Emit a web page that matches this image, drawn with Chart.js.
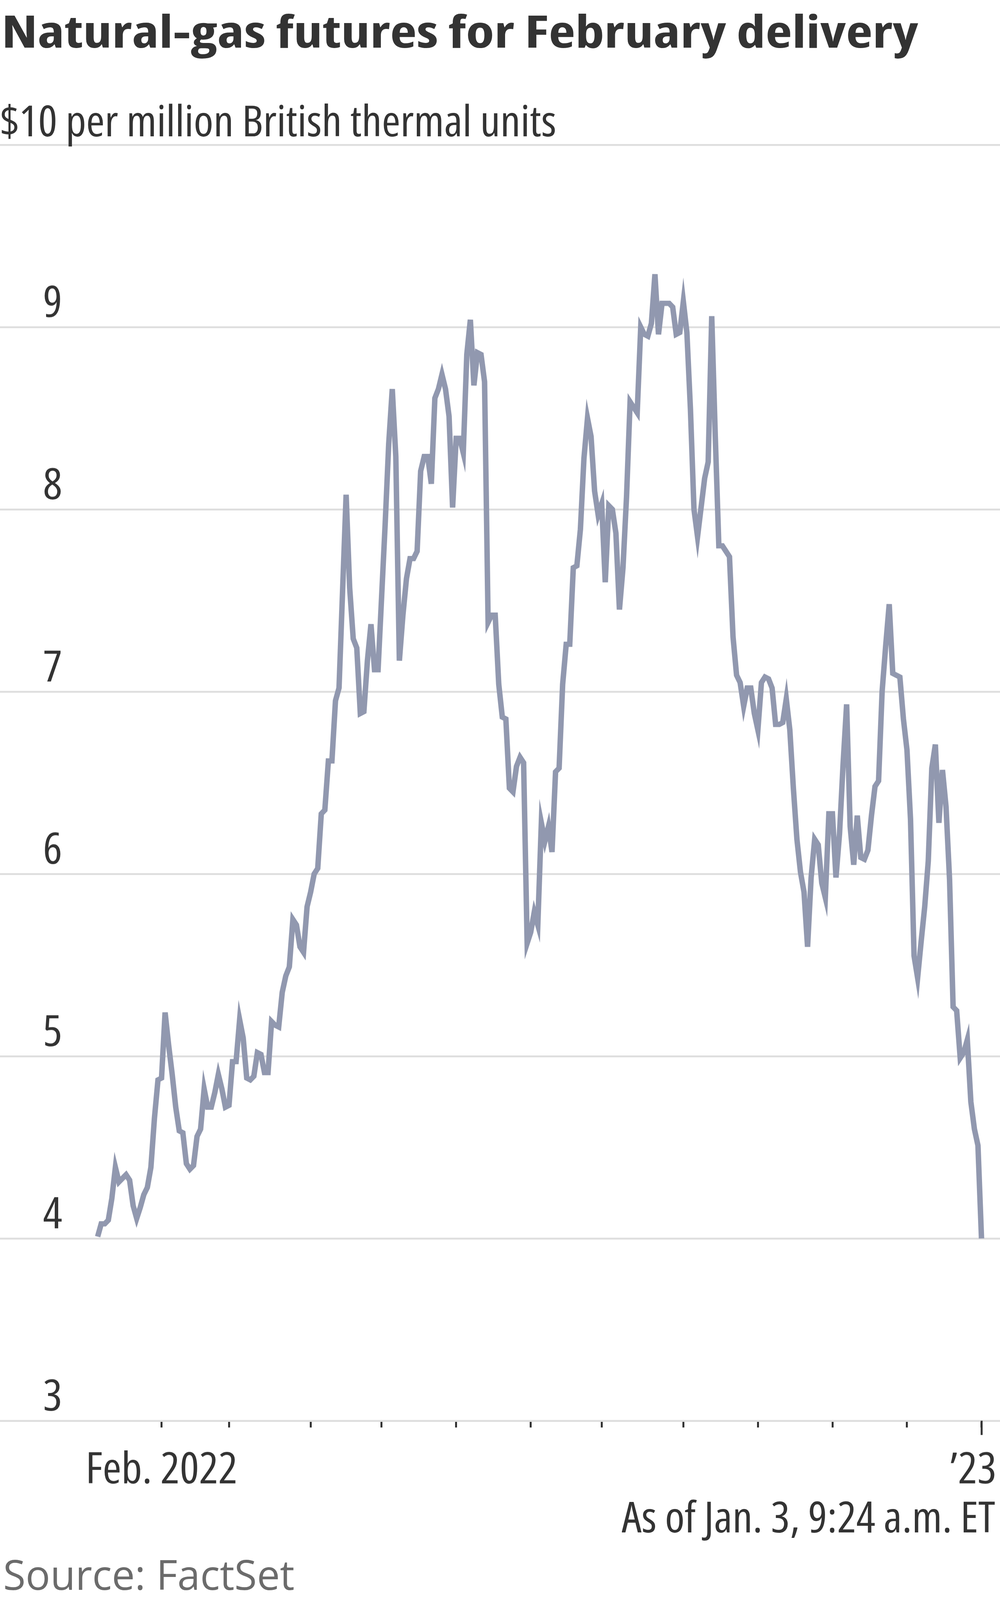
<!DOCTYPE html>
<html>
<head>
<meta charset="utf-8">
<script src="https://cdn.jsdelivr.net/npm/chart.js@4.4.1/dist/chart.umd.min.js"></script>
<style>
  html, body { margin: 0; padding: 0; background: #ffffff; overflow: hidden; }
  body { width: 2560px; }
  #page { position: relative; width: 2560px; height: 4266px; transform-origin: 0 0; background: #ffffff; }
  #c { position: absolute; left: 0; top: 0; width: 2560px; height: 4266px; }
  .t { position: absolute; left: 0; top: 0; white-space: nowrap; line-height: 1; margin: 0; }
  .probe { display: inline-block; width: 0; height: 0; vertical-align: baseline; }
  .cond { font-family: 'Open Sans', 'Liberation Sans Narrow', sans-serif; font-stretch: condensed; }
  #title { font-weight: 700; font-size: 120px; color: #333333; }
  #subtitle { font-weight: 400; font-size: 114px; color: #333333; }
  #asof { font-weight: 400; font-size: 114px; color: #333333; }
  #source { font-family: 'Open Sans', 'Liberation Sans', sans-serif; font-weight: 400; font-size: 110px; color: #6b6b6b; }
</style>
</head>
<body>
<div id="page">
<canvas id="c" width="2560" height="4266"></canvas>
<div id="title" class="t cond"><span class="txt">Natural-gas futures for February delivery</span><span class="probe"></span></div>
<div id="subtitle" class="t cond"><span class="txt">$10 per million British thermal units</span><span class="probe"></span></div>
<div id="asof" class="t cond"><span class="txt">As of Jan. 3, 9:24 a.m. ET</span><span class="probe"></span></div>
<div id="source" class="t"><span class="txt">Source: FactSet</span><span class="probe"></span></div>
</div>
<script>
// ---------------- DATA ----------------
// Trading-day calendar (categories): weekdays Jan 5, 2022 - Jan 3, 2023, excluding NYMEX holidays
const firstDay = [2022, 0, 5];
const lastDay = [2023, 0, 3];
const marketHolidays = ['2022-01-17', '2022-02-21', '2022-04-15', '2022-05-30', '2022-06-20',
                        '2022-07-04', '2022-09-05', '2022-11-24', '2022-12-26', '2023-01-02'];

// Settlement prices, $ per million BTU (one per trading day)
const prices = [
  4.01, 4.08, 4.08, 4.10, 4.22, 4.39, 4.31, 4.33, 4.35, 4.32,
  4.18, 4.11, 4.17, 4.24, 4.28, 4.39, 4.66, 4.87, 4.88, 5.24,
  5.06, 4.90, 4.72, 4.59, 4.58, 4.41, 4.38, 4.40, 4.56, 4.60,
  4.82, 4.72, 4.72, 4.80, 4.90, 4.82, 4.72, 4.73, 4.97, 4.97,
  5.20, 5.10, 4.88, 4.87, 4.89, 5.02, 5.01, 4.91, 4.91, 5.19,
  5.17, 5.16, 5.35, 5.44, 5.49, 5.75, 5.72, 5.60, 5.57, 5.82,
  5.90, 6.00, 6.03, 6.33, 6.35, 6.62, 6.62, 6.95, 7.02, 7.55,
  8.08, 7.57, 7.29, 7.24, 6.88, 6.89, 7.17, 7.37, 7.12, 7.12,
  7.52, 7.92, 8.36, 8.66, 8.29, 7.17, 7.42, 7.62, 7.73, 7.73,
  7.77, 8.21, 8.29, 8.29, 8.14, 8.61, 8.66, 8.74, 8.66, 8.51,
  8.01, 8.39, 8.39, 8.31, 8.85, 9.04, 8.68, 8.86, 8.85, 8.70,
  7.38, 7.42, 7.42, 7.04, 6.86, 6.85, 6.47, 6.45, 6.59, 6.64,
  6.61, 5.62, 5.68, 5.79, 5.72, 6.28, 6.18, 6.26, 6.12, 6.56,
  6.58, 7.04, 7.26, 7.26, 7.68, 7.69, 7.89, 8.28, 8.50, 8.40,
  8.10, 7.97, 8.03, 7.60, 8.02, 8.00, 7.87, 7.45, 7.68, 8.07,
  8.59, 8.56, 8.53, 9.00, 8.96, 8.95, 9.02, 9.29, 8.96, 9.13,
  9.13, 9.13, 9.11, 8.96, 8.97, 9.14, 8.97, 8.55, 8.00, 7.85,
  8.01, 8.17, 8.26, 9.06, 8.40, 7.80, 7.80, 7.77, 7.74, 7.30,
  7.09, 7.05, 6.92, 7.02, 7.02, 6.88, 6.79, 7.05, 7.08, 7.07,
  7.02, 6.82, 6.82, 6.83, 6.96, 6.79, 6.47, 6.19, 6.01, 5.90,
  5.60, 5.98, 6.19, 6.16, 5.95, 5.87, 6.33, 6.33, 5.98, 6.22,
  6.60, 6.93, 6.26, 6.05, 6.32, 6.09, 6.08, 6.13, 6.32, 6.48,
  6.51, 7.00, 7.25, 7.48, 7.10, 7.09, 7.08, 6.85, 6.68, 6.30,
  5.55, 5.43, 5.63, 5.82, 6.07, 6.58, 6.71, 6.28, 6.57, 6.37,
  5.97, 5.27, 5.25, 4.99, 5.02, 5.09, 4.75, 4.60, 4.51, 4.00
];

// Tick labels
const yTickValues = [3, 4, 5, 6, 7, 8, 9, 10];
const yTickLabels = ['3', '4', '5', '6', '7', '8', '9', ''];
// one label per month-start tick (Feb 2022 ... Jan 2023)
const xTickLabels = ['Feb. 2022', '', '', '', '', '', '', '', '', '', '', '\u201923  '];

// ---------------- BUILD ----------------
const tradingDays = [];
for (let d = new Date(Date.UTC(...firstDay)); d.getTime() <= Date.UTC(...lastDay); d.setUTCDate(d.getUTCDate() + 1)) {
  const wd = d.getUTCDay();
  const iso = d.toISOString().slice(0, 10);
  if (wd !== 0 && wd !== 6 && !marketHolidays.includes(iso)) tradingDays.push(iso);
}
// first trading day of each month -> tick positions
const xTickIdx = [];
for (let i = 1; i < tradingDays.length; i++) {
  if (tradingDays[i].slice(5, 7) !== tradingDays[i - 1].slice(5, 7)) xTickIdx.push(i);
}

const points = prices.map((v, i) => ({ x: i, y: v }));

const FONT = "'Open Sans', 'Liberation Sans Narrow', sans-serif";
const TICK_FONT = { family: FONT, weight: 'condensed', size: 116, lineHeight: 1 };

const longTick = {
  id: 'longTick',
  afterDraw(chart) {
    const s = chart.scales.x;
    const px = Math.round(s.getPixelForValue(xTickIdx[xTickIdx.length - 1]));
    const c = chart.ctx;
    c.save();
    c.strokeStyle = '#333333';
    c.lineWidth = 5;
    c.beginPath();
    c.moveTo(px, chart.chartArea.bottom);
    c.lineTo(px, chart.chartArea.bottom + 38);
    c.stroke();
    c.restore();
  }
};

function place(id, opt) {
  const el = document.getElementById(id);
  const txt = el.querySelector('.txt');
  const probe = el.querySelector('.probe');
  el.style.transform = 'none';
  const w = txt.getBoundingClientRect().width;
  let base = probe.offsetTop;
  const size = parseFloat(getComputedStyle(el).fontSize);
  if (!(base > 0.5 * size && base < 1.2 * size)) base = 0.87 * size;
  const s = opt.width / w;
  el.style.top = (opt.baseline - base) + 'px';
  if (opt.left !== undefined) {
    el.style.left = opt.left + 'px';
    el.style.transformOrigin = '0px 0px';
  } else {
    el.style.left = (opt.right - w) + 'px';
    el.style.transformOrigin = w + 'px 0px';
  }
  el.style.transform = 'scaleX(' + s + ')';
}

function build() {
  place('title', { left: 4, width: 2347, baseline: 127 });
  place('subtitle', { left: 0, width: 1424, baseline: 363 });
  place('asof', { right: 2548, width: 956, baseline: 4086 });
  place('source', { left: 8, width: 746, baseline: 4239 });

  new Chart(document.getElementById('c'), {
    type: 'line',
    data: {
      datasets: [{
        data: points,
        borderColor: '#9198af',
        borderWidth: 14,
        pointRadius: 0,
        tension: 0,
        fill: false,
        borderJoinStyle: 'miter',
        borderCapStyle: 'butt'
      }]
    },
    options: {
      responsive: false,
      animation: false,
      devicePixelRatio: 1,
      events: [],
      layout: { padding: { top: 386, left: 0, right: 0, bottom: 0 } },
      plugins: { legend: { display: false }, tooltip: { enabled: false }, title: { display: false } },
      scales: {
        x: {
          type: 'linear',
          min: -27.51,
          max: 254.21,
          offset: false,
          afterBuildTicks: (s) => { s.ticks = xTickIdx.map(v => ({ value: v })); },
          afterFit: (s) => { s.height = 478; s.paddingLeft = 0; s.paddingRight = 0; },
          grid: { display: true, drawOnChartArea: false, drawTicks: true, tickLength: 18, tickColor: '#333333', tickWidth: 5 },
          border: { display: false },
          ticks: {
            autoSkip: false, maxRotation: 0, minRotation: 0, padding: 58,
            color: '#333333',
            font: TICK_FONT,
            callback: (v, i) => xTickLabels[i] || ''
          }
        },
        y: {
          type: 'linear',
          min: 3,
          max: 10,
          afterBuildTicks: (s) => { s.ticks = yTickValues.map(v => ({ value: v })); },
          afterFit: (s) => { s.width = 0; s.paddingTop = 0; s.paddingBottom = 0; },
          grid: { color: '#dedede', lineWidth: 5, drawTicks: false },
          border: { display: false },
          ticks: {
            mirror: true, padding: 110, crossAlign: 'near', labelOffset: -60,
            color: '#333333',
            font: TICK_FONT,
            callback: (v, i) => yTickLabels[i]
          }
        }
      }
    },
    plugins: [longTick]
  });

  // fit the full 2560x4266 design into the visible window height
  const vh = window.innerHeight;
  if (vh > 0 && vh < 4266) {
    const k = vh / 4266;
    const page = document.getElementById('page');
    page.style.transform = 'scaleY(' + k + ')';
    document.body.style.height = vh + 'px';
  }
}

if (document.fonts && document.fonts.ready) {
  document.fonts.ready.then(build);
} else {
  build();
}
</script>
</body>
</html>
